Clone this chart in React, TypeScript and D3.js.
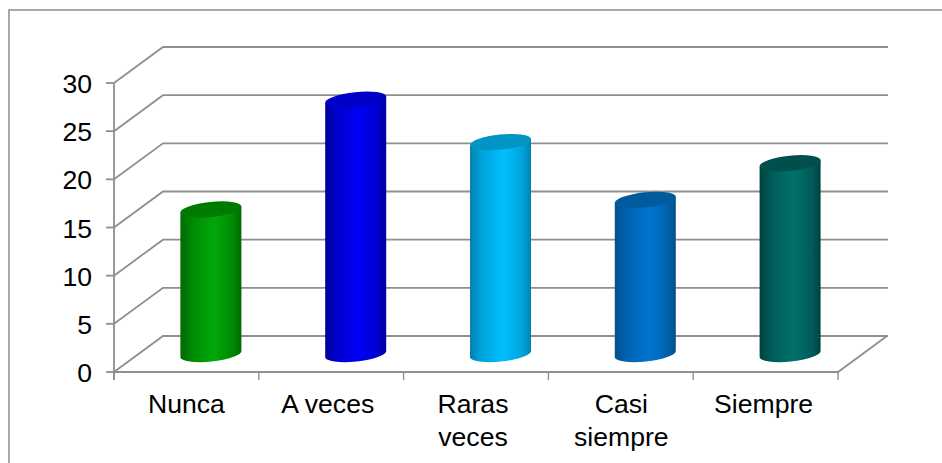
import React from "react";
import * as d3 from "d3";

const categories: string[][] = [["Nunca"], ["A veces"], ["Raras", "veces"], ["Casi", "siempre"], ["Siempre"]];
const values = [15, 26.4, 22, 16, 19.8];
const yTicks = [0, 5, 10, 15, 20, 25, 30];
const palette = [
  { edge: "#006a00", side: "#008a05", mid: "#00a80a", top: "#007a00" },
  { edge: "#00009c", side: "#0000d0", mid: "#0000f5", top: "#0000c8" },
  { edge: "#0083b0", side: "#00a4dc", mid: "#00bfff", top: "#0095c4" },
  { edge: "#00508c", side: "#0063b0", mid: "#0074d0", top: "#005a9e" },
  { edge: "#004240", side: "#005c58", mid: "#00716a", top: "#004f4c" },
];
const labelNudge = [0, -3.5, -3, 0.5, -2];

const W = 942, H = 463;
const DX = 49, DY = 36;
const y = d3.scaleLinear().domain([0, 30]).range([372, 83]);
const x = d3.scaleBand<number>().domain(d3.range(5)).range([114, 838]);
const GREY = "#8f8f8f";

function ellipse(cx: number, cy: number, rx: number, ry: number) {
  return `M${cx - rx},${cy + 3.2}A${rx},${ry} -6 0 0 ${cx + rx},${cy - 3.2}A${rx},${ry} -6 0 0 ${cx - rx},${cy + 3.2}Z`;
}

export default function App() {
  const rx = 30.5, ry = 7.5;
  return (
    <svg width={W} height={H} style={{ position: "fixed", left: 0, top: 0, background: "#fff" }}>
      <defs>
        {palette.map((p, i) => (
          <linearGradient key={i} id={`g${i}`} x1="0" x2="1" y1="0" y2="0">
            <stop offset="0" stopColor={p.edge} />
            <stop offset="0.2" stopColor={p.side} />
            <stop offset="0.55" stopColor={p.mid} />
            <stop offset="0.85" stopColor={p.side} />
            <stop offset="1" stopColor={p.edge} />
          </linearGradient>
        ))}
      </defs>
      <path d={`M9,463V10H${W}`} fill="none" stroke="#8c8c8c" strokeWidth={1.5} />
      {yTicks.map((t) => (
        <g key={t} stroke={GREY} strokeWidth={1.8} fill="none">
          <path d={`M${x.range()[0]},${y(t)}L${x.range()[0] + DX},${y(t) - DY}H${x.range()[1] + DX + 1}`} />
          <line x1={106} x2={114} y1={y(t)} y2={y(t)} />
        </g>
      ))}
      <path d={`M114,${y(30)}V380`} stroke={GREY} strokeWidth={1.8} fill="none" />
      <path d={`M114,${y(0)}H838L${838 + DX},${y(0) - DY}`} stroke={GREY} strokeWidth={1.8} fill="none" />
      {d3.range(6).map((i) => {
        const px = i === 5 ? x.range()[1] : x(i)!;
        return <line key={i} x1={px} x2={px} y1={372} y2={380} stroke={GREY} strokeWidth={1.4} />;
      })}
      {values.map((v, i) => {
        const cx = x(i)! + x.bandwidth() / 2 + DX / 2;
        const base = y(0) - DY / 2;
        const top = base - (y(0) - y(v));
        return (
          <g key={i}>
            <path
              d={`M${cx - rx},${top + 3.2}L${cx - rx},${base + 3.2}A${rx},${ry} -6 0 0 ${cx + rx},${base - 3.2}L${cx + rx},${top - 3.2}Z`}
              fill={`url(#g${i})`}
            />
            <path d={ellipse(cx, top, rx, ry)} fill={palette[i].top} />
          </g>
        );
      })}
      <g fontFamily="Liberation Sans, Arial, sans-serif" fontSize={26.6} fill="#000">
        {yTicks.map((t) => (
          <text key={t} x={92} y={y(t) + 1} textAnchor="end" dominantBaseline="central">{t}</text>
        ))}
        {categories.map((lines, i) => {
          const lx = x(i)! + x.bandwidth() / 2 + labelNudge[i];
          return (
            <text key={i} textAnchor="middle" x={lx} y={413}>
              {lines.map((l, j) => (
                <tspan key={j} x={lx} dy={j === 0 ? 0 : 33}>{l}</tspan>
              ))}
            </text>
          );
        })}
      </g>
    </svg>
  );
}
